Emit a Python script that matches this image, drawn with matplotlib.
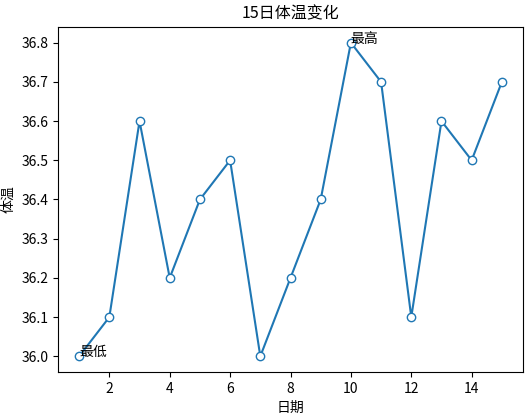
import matplotlib
matplotlib.use("Agg")
import matplotlib.pyplot as plt

plt.rcParams['font.family'] = ['Noto Sans CJK SC', 'DejaVu Sans']
plt.rcParams['axes.unicode_minus'] = False

days = list(range(1, 16))
temps = [36.0, 36.1, 36.6, 36.2, 36.4, 36.5, 36.0, 36.2, 36.4, 36.8, 36.7, 36.1, 36.6, 36.5, 36.7]

fig = plt.figure(figsize=(5.28, 4.15), dpi=100)
ax = fig.add_axes([58/528, 1 - 372/415, (523-58)/528, (372-27)/415])
ax.plot(days, temps, marker='o', markerfacecolor='white', color='#1f77b4')
ax.set_title('15日体温变化', fontsize=11.5)
ax.set_xlabel('日期', fontsize=10)
ax.set_ylabel('体温', fontsize=10)
imin = temps.index(min(temps))
imax = temps.index(max(temps))
ax.text(days[imin], temps[imin], '最低', fontsize=10)
ax.text(days[imax], temps[imax], '最高', fontsize=10)
fig.savefig('out.png', dpi=100)
